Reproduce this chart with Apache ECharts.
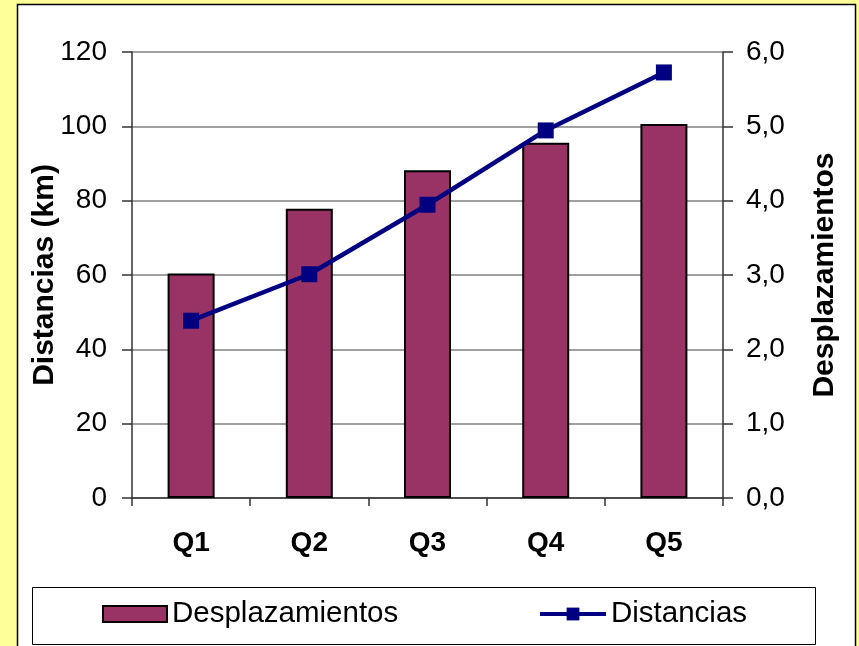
<!DOCTYPE html>
<html>
<head>
<meta charset="utf-8">
<script src="https://cdn.jsdelivr.net/npm/echarts@6/dist/echarts.min.js"></script>
<style>
html,body{margin:0;padding:0;background:#FFFF99;}
#chart{width:859px;height:646px;}
</style>
</head>
<body>
<div id="chart"></div>
<script>
var categories = ['Q1', 'Q2', 'Q3', 'Q4', 'Q5'];
var desplazamientos = [3.02, 3.89, 4.41, 4.78, 5.03];
var distancias = [47.7, 60.2, 78.9, 98.9, 114.5];
var leftTicks = { min: 0, max: 120, interval: 20 };
var rightTicks = { min: 0, max: 6, interval: 1 };

var FONT = "'Liberation Sans', Arial, sans-serif";
var chart = echarts.init(document.getElementById('chart'), null, { renderer: 'canvas' });

chart.setOption({
  backgroundColor: '#FFFF99',
  animation: false,
  textStyle: { fontFamily: FONT, color: '#000' },
  graphic: [
    { type: 'rect', z: -10, shape: { x: 17.5, y: 4.5, width: 838, height: 660 },
      style: { fill: '#FFFFFF', stroke: '#000', lineWidth: 1.5 } },
    { type: 'rect', z: -9, shape: { x: 32.5, y: 587.5, width: 783, height: 57 },
      style: { fill: '#FFFFFF', stroke: '#000', lineWidth: 1 } }
  ],
  grid: { left: 132, right: 136, top: 52, bottom: 148, containLabel: false },
  legend: [
    { data: ['Desplazamientos'], left: 102, top: 599, itemWidth: 64, itemHeight: 16, icon: 'rect',
      textStyle: { fontSize: 29.5, fontFamily: FONT, color: '#000' }, padding: 0 },
    { data: [{ name: 'Distancias' }], left: 538, top: 599, itemWidth: 66, itemHeight: 16,
      lineStyle: { width: 4 },
      textStyle: { fontSize: 29.5, fontFamily: FONT, color: '#000' }, padding: 0 }
  ],
  xAxis: {
    type: 'category',
    data: categories,
    boundaryGap: true,
    axisLine: { lineStyle: { color: '#333', width: 1.5 } },
    axisTick: { show: true, interval: 0, length: 8, lineStyle: { color: '#333', width: 1.5 } },
    axisLabel: { fontSize: 28, fontWeight: 'bold', color: '#000', margin: 31, fontFamily: FONT },
    splitLine: { show: false }
  },
  yAxis: [
    {
      type: 'value', position: 'left',
      min: leftTicks.min, max: leftTicks.max, interval: leftTicks.interval,
      name: 'Distancias (km)', nameLocation: 'middle', nameGap: 72, nameRotate: 90,
      nameMoveOverlap: false,
      nameTextStyle: { fontSize: 30, fontWeight: 'bold', color: '#000', fontFamily: FONT },
      axisLine: { show: true, lineStyle: { color: '#333', width: 1.5 } },
      axisTick: { show: true, length: 10, lineStyle: { color: '#333', width: 1.5 } },
      axisLabel: { fontSize: 28, color: '#000', margin: 25, fontFamily: FONT },
      splitLine: { show: true, lineStyle: { color: '#808080', width: 1.5 } }
    },
    {
      type: 'value', position: 'right',
      min: rightTicks.min, max: rightTicks.max, interval: rightTicks.interval,
      name: 'Desplazamientos', nameLocation: 'middle', nameGap: 87, nameRotate: 90,
      nameMoveOverlap: false,
      nameTextStyle: { fontSize: 30, fontWeight: 'bold', color: '#000', fontFamily: FONT },
      axisLine: { show: true, lineStyle: { color: '#333', width: 1.5 } },
      axisTick: { show: true, length: 10, lineStyle: { color: '#333', width: 1.5 } },
      axisLabel: { fontSize: 28, color: '#000', margin: 23, fontFamily: FONT,
        formatter: function (v) { return v.toFixed(1).replace('.', ','); } },
      splitLine: { show: false }
    }
  ],
  series: [
    {
      name: 'Desplazamientos', type: 'bar', yAxisIndex: 1, data: desplazamientos,
      barWidth: 47,
      itemStyle: { color: '#993366', borderColor: '#000', borderWidth: 2 }
    },
    {
      name: 'Distancias', type: 'line', yAxisIndex: 0, data: distancias,
      symbol: 'rect', symbolSize: 16,
      lineStyle: { color: '#000080', width: 4.5 },
      itemStyle: { color: '#000080' }
    }
  ]
});
</script>
</body>
</html>
